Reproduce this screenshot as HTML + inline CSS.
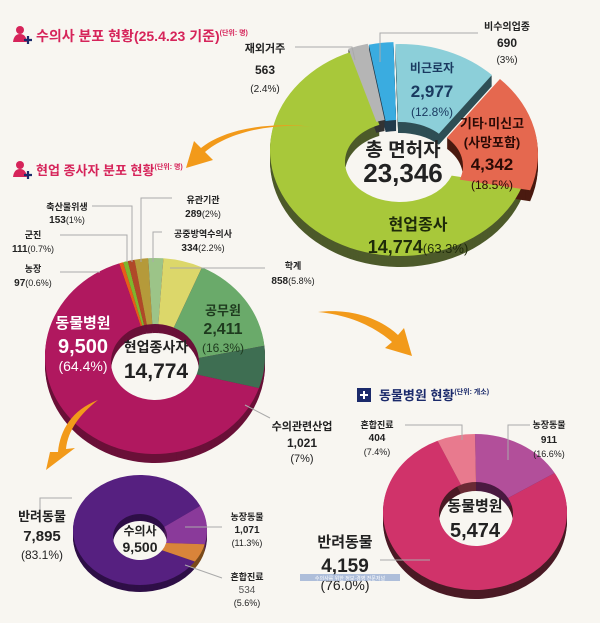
<!DOCTYPE html>
<html><head><meta charset="utf-8">
<style>
html,body{margin:0;padding:0;background:#f8f6f1;}
svg{display:block;}
text{font-family:"Liberation Sans","Noto Sans CJK KR",sans-serif;}
</style></head>
<body>
<svg id="s" width="600" height="623" viewBox="0 0 600 623" xmlns="http://www.w3.org/2000/svg">
<rect width="600" height="623" fill="#f8f6f1"/>
<g id="charts"></g>
<path d="M315,127 C265,122 225,135 205,152 L213,160 L186,168 L194,141 L201,148 C222,131 262,121 315,127 Z" fill="#f29a1a"/>
<path d="M318,312 C350,308 380,318 398,335 L404,328 L412,356 L385,348 L392,342 C375,327 350,315 318,312 Z" fill="#f29a1a"/>
<path d="M98,400 C72,410 60,430 58,452 L50,452 L46,470 L75,448 L66,449 C68,430 80,414 98,400 Z" fill="#f29a1a"/>
<g id="txt" font-weight="bold" text-anchor="middle" fill="#222">
<g text-anchor="start">
<circle cx="20" cy="30" r="4" fill="#d6245a"/><path d="M13,42 Q14,34 20,34 Q26,34 27,42 Z" fill="#d6245a"/><path d="M24,40 h8 M28,36 v8" stroke="#1b2a6b" stroke-width="2.2"/>
<text x="36" y="41" font-size="14" fill="#d6245a">수의사 분포 현황(25.4.23 기준)<tspan font-size="7" dy="-6">(단위: 명)</tspan></text>
<circle cx="20" cy="165" r="4" fill="#d6245a"/><path d="M13,177 Q14,169 20,169 Q26,169 27,177 Z" fill="#d6245a"/><path d="M24,175 h8 M28,171 v8" stroke="#1b2a6b" stroke-width="2.2"/>
<text x="36" y="175" font-size="13" fill="#d6245a">현업 종사자 분포 현황<tspan font-size="7" dy="-6">(단위: 명)</tspan></text>
<rect x="357" y="388" width="14" height="14" fill="#1b2a6b"/><path d="M360,395 h8 M364,391 v8" stroke="#fff" stroke-width="2"/>
<text x="379" y="400" font-size="13" fill="#1b2a6b">동물병원 현황<tspan font-size="7" dy="-6">(단위: 개소)</tspan></text>
</g>
<g stroke="#aaa" stroke-width="1" fill="none">
<path d="M295,47 H352 L355,60"/><path d="M380,62 V33 H478"/>
<path d="M92,206 H132 V262"/><path d="M60,235 H127 V262"/><path d="M60,272 H100"/>
<path d="M141,262 V198 H172"/><path d="M153,262 V232 H162"/><path d="M170,268 H265"/>
<path d="M245,405 L270,418"/>
<path d="M40,510 V498 H72"/><path d="M185,527 H222"/><path d="M185,565 L222,578"/>
<path d="M405,425 H462 V440"/><path d="M508,460 V425 H530"/><path d="M380,560 H430"/>
</g>
<text x="265" y="52" font-size="11">재외거주</text>
<text x="265" y="74" font-size="12">563</text>
<text x="265" y="92" font-size="10" font-weight="normal">(2.4%)</text>
<text x="507" y="30" font-size="10">비수의업종</text>
<text x="507" y="47" font-size="12">690</text>
<text x="507" y="63" font-size="10" font-weight="normal">(3%)</text>
<text x="432" y="72" font-size="12" fill="#1a3a60">비근로자</text>
<text x="432" y="97" font-size="17" fill="#1a3a60">2,977</text>
<text x="432" y="116" font-size="12" font-weight="normal" fill="#1a3a60">(12.8%)</text>
<text x="492" y="128" font-size="13" fill="#2a0a05">기타·미신고</text>
<text x="492" y="147" font-size="13" fill="#2a0a05">(사망포함)</text>
<text x="492" y="170" font-size="17" fill="#2a0a05">4,342</text>
<text x="492" y="189" font-size="12" font-weight="normal" fill="#2a0a05">(18.5%)</text>
<text x="403" y="156" font-size="19">총 면허자</text>
<text x="403" y="182" font-size="26">23,346</text>
<text x="418" y="230" font-size="16" fill="#1e2a0a">현업종사</text>
<text x="418" y="253" font-size="18" fill="#1e2a0a">14,774<tspan font-size="13" font-weight="normal">(63.3%)</tspan></text>
<text x="67" y="210" font-size="9">축산물위생</text>
<text x="67" y="223" font-size="10">153<tspan font-weight="normal" font-size="9">(1%)</tspan></text>
<text x="33" y="238" font-size="9">군진</text>
<text x="33" y="252" font-size="10">111<tspan font-weight="normal" font-size="9">(0.7%)</tspan></text>
<text x="33" y="272" font-size="9">농장</text>
<text x="33" y="286" font-size="10">97<tspan font-weight="normal" font-size="9">(0.6%)</tspan></text>
<text x="203" y="203" font-size="9">유관기관</text>
<text x="203" y="217" font-size="10">289<tspan font-weight="normal" font-size="9">(2%)</tspan></text>
<text x="203" y="237" font-size="9">공중방역수의사</text>
<text x="203" y="251" font-size="10">334<tspan font-weight="normal" font-size="9">(2.2%)</tspan></text>
<text x="293" y="269" font-size="9">학계</text>
<text x="293" y="284" font-size="10">858<tspan font-weight="normal" font-size="9">(5.8%)</tspan></text>
<text x="223" y="315" font-size="13" fill="#1e3a1e">공무원</text>
<text x="223" y="334" font-size="16" fill="#1e3a1e">2,411</text>
<text x="223" y="352" font-size="12" font-weight="normal" fill="#1e3a1e">(16.3%)</text>
<text x="83" y="328" font-size="15" fill="#fff">동물병원</text>
<text x="83" y="353" font-size="20" fill="#fff">9,500</text>
<text x="83" y="371" font-size="14" font-weight="normal" fill="#fff">(64.4%)</text>
<text x="156" y="352" font-size="14">현업종사자</text>
<text x="156" y="378" font-size="21">14,774</text>
<text x="302" y="430" font-size="11">수의관련산업</text>
<text x="302" y="447" font-size="12">1,021</text>
<text x="302" y="462" font-size="11" font-weight="normal">(7%)</text>
<text x="42" y="521" font-size="13">반려동물</text>
<text x="42" y="541" font-size="15">7,895</text>
<text x="42" y="559" font-size="12" font-weight="normal">(83.1%)</text>
<text x="140" y="535" font-size="12">수의사</text>
<text x="140" y="552" font-size="14">9,500</text>
<text x="247" y="520" font-size="9">농장동물</text>
<text x="247" y="533" font-size="10">1,071</text>
<text x="247" y="546" font-size="9" font-weight="normal">(11.3%)</text>
<text x="247" y="580" font-size="9">혼합진료</text>
<text x="247" y="593" font-size="10" font-weight="normal" fill="#555">534</text>
<text x="247" y="606" font-size="9" font-weight="normal">(5.6%)</text>
<text x="377" y="428" font-size="9">혼합진료</text>
<text x="377" y="441" font-size="10">404</text>
<text x="377" y="455" font-size="9" font-weight="normal">(7.4%)</text>
<text x="549" y="428" font-size="9">농장동물</text>
<text x="549" y="443" font-size="10">911</text>
<text x="549" y="457" font-size="9" font-weight="normal">(16.6%)</text>
<text x="475" y="511" font-size="15">동물병원</text>
<text x="475" y="537" font-size="20">5,474</text>
<text x="345" y="547" font-size="15">반려동물</text>
<text x="345" y="572" font-size="19">4,159</text>
<text x="345" y="590" font-size="14" font-weight="normal">(76.0%)</text>
<rect x="300" y="574" width="100" height="7" fill="#9bb0d4" opacity="0.8"/>
<text x="350" y="580" font-size="5" fill="#fff" font-weight="normal">수의사를 위한 정보·경영 전문저널</text>
</g>
</svg>
<script>
var g=document.getElementById('charts'),NS='http://www.w3.org/2000/svg';
function pt(cx,cy,rx,ry,a){a=a*Math.PI/180;return [cx+rx*Math.sin(a),cy-ry*Math.cos(a)];}
function seg(c,a0,a1,col,dx,dy){
 dx=dx||0;dy=dy||0;
 var o0=pt(c.cx+dx,c.cy+dy,c.rx,c.ry,a0),o1=pt(c.cx+dx,c.cy+dy,c.rx,c.ry,a1),
 i0=pt(c.icx+dx,c.icy+dy,c.irx,c.iry,a0),i1=pt(c.icx+dx,c.icy+dy,c.irx,c.iry,a1),L=(a1-a0)>180?1:0;
 var d='M'+o0+' A'+c.rx+' '+c.ry+' 0 '+L+' 1 '+o1+' L'+i1+' A'+c.irx+' '+c.iry+' 0 '+L+' 0 '+i0+' Z';
 var p=document.createElementNS(NS,'path');p.setAttribute('d',d);p.setAttribute('fill',col);g.appendChild(p);}
function donut(c,segs){
 segs.forEach(function(s){for(var k=c.dep;k>0;k-=1)seg(c,s[0],s[1],s[3],(s[4]||0),(s[5]||0)+k);});
 segs.forEach(function(s){seg(c,s[0],s[1],s[2],s[4]||0,s[5]||0);});
}
donut({cx:400,cy:150,rx:130,ry:106,icx:400,icy:162,irx:55,iry:40,dep:11},[
 [110,338,'#a8c83a','#4d5a2a'],
 [45,110,'#e5684f','#4a1a10',8,4],
 [-2,45,'#8ccfd9','#2e4e55'],
 [-13,-2,'#3aace0','#223a4a',-2,-2],
 [-22,-13,'#b5b5b5','#333',-3,-3]
]);
var m={cx:155,cy:356,rx:110,ry:98,icx:155,icy:362,irx:44,iry:38,dep:9};
var st=-19,mids=[[0.6,'#e85a1a'],[0.7,'#7fb52c'],[1,'#b04828'],[2,'#b59a3a'],[2.2,'#9cc488'],[5.8,'#dcd76a'],[16.3,'#6aaa6a'],[7,'#3e6e52'],[64.4,'#b0185f']];
var ms=[];mids.forEach(function(x){var e=st+x[0]*3.6;ms.push([st,e,x[1],'#6a1038']);st=e;});
donut(m,ms);
donut({cx:140,cy:530,rx:67,ry:55,icx:140,icy:537,irx:27,iry:23,dep:7},[
 [125,424,'#562080','#2e0f47'],[64,105,'#8a3a9a','#4a1a55'],[105,125,'#d9843a','#7a4a1a']
]);
donut({cx:475,cy:512,rx:92,ry:78,icx:476,icy:514,irx:37,iry:32,dep:9},[
 [60,336,'#d0336a','#4a1a25'],[0,60,'#b24f9a','#4a1a40'],[-24,0,'#e87a8e','#6a2a35']
]);
var t=document.getElementById('txt');document.getElementById('s').appendChild(t);
</script>
</body></html>
